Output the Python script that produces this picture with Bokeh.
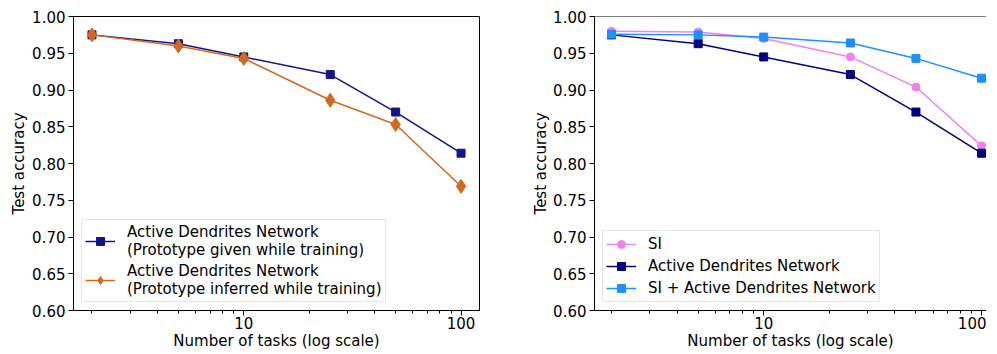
from bokeh.plotting import figure
from bokeh.layouts import row
from bokeh.models import (Range1d, FixedTicker, NumeralTickFormatter, PrintfTickFormatter,
                          Legend, LegendItem, Span)
from bokeh.embed import file_html
from bokeh.resources import INLINE

tasks = [2, 5, 10, 25, 50, 100]
adn_given = [0.975, 0.963, 0.945, 0.921, 0.870, 0.814]
adn_inferred = [0.975, 0.960, 0.943, 0.886, 0.853, 0.769]
si = [0.980, 0.979, 0.970, 0.945, 0.904, 0.824]
adn = [0.975, 0.963, 0.945, 0.921, 0.870, 0.814]
si_adn = [0.976, 0.975, 0.972, 0.964, 0.943, 0.916]

y_ticks = [0.60, 0.65, 0.70, 0.75, 0.80, 0.85, 0.90, 0.95, 1.00]
x_major = [10, 100]
x_minor = [2, 3, 4, 5, 6, 7, 8, 9, 20, 30, 40, 50, 60, 70, 80, 90]

FONT = "DejaVu Sans"
FS = "15px"


def style(p, ylab_standoff):
    p.xgrid.visible = False
    p.ygrid.visible = False
    p.background_fill_color = "white"
    p.border_fill_color = "white"
    for ax in (p.xaxis[0], p.yaxis[0]):
        ax.axis_line_color = "black"
        ax.axis_line_width = 1
        ax.major_tick_line_color = "black"
        ax.minor_tick_line_color = "black"
        ax.major_tick_out = 5
        ax.major_tick_in = 0
        ax.minor_tick_out = 3
        ax.minor_tick_in = 0
        ax.major_label_text_font = FONT
        ax.major_label_text_font_size = FS
        ax.major_label_text_color = "black"
        ax.axis_label_text_font = FONT
        ax.axis_label_text_font_size = FS
        ax.axis_label_text_font_style = "normal"
        ax.axis_label_text_color = "black"
        ax.major_label_standoff = 3
    p.xaxis[0].ticker = FixedTicker(ticks=x_major, minor_ticks=x_minor)
    p.xaxis[0].formatter = PrintfTickFormatter(format="%d")
    p.xaxis[0].axis_label = "Number of tasks (log scale)"
    p.xaxis[0].axis_label_standoff = 0
    p.xaxis[0].major_label_standoff = 1
    p.yaxis[0].ticker = FixedTicker(ticks=y_ticks, minor_ticks=[])
    p.yaxis[0].formatter = NumeralTickFormatter(format="0.00")
    p.yaxis[0].axis_label = "Test accuracy"
    p.yaxis[0].axis_label_standoff = ylab_standoff


def legend(p, items, spacing, line_height):
    lg = Legend(items=items, location="bottom_left")
    lg.label_text_font = FONT
    lg.label_text_font_size = FS
    lg.label_text_color = "black"
    lg.glyph_width = 30
    lg.label_standoff = 12
    lg.border_line_color = "#d0d0d0"
    lg.border_line_width = 1
    lg.background_fill_alpha = 0.85
    lg.padding = 3
    lg.margin = 8
    lg.spacing = spacing
    lg.label_text_line_height = line_height
    p.add_layout(lg, "center")


# Left plot
p1 = figure(width=522, height=352, x_axis_type="log",
            x_range=Range1d(10 ** 0.216, 10 ** 2.085), y_range=Range1d(0.6, 1.0),
            output_backend="svg", toolbar_location=None,
            min_border_left=73, min_border_right=43, min_border_top=16, min_border_bottom=38)
style(p1, 1)
p1.outline_line_color = "black"
p1.outline_line_width = 1
c1 = "#14148a"
c2 = "#d2691e"
l1 = p1.line(tasks, adn_given, line_color=c1, line_width=1.5)
m1 = p1.scatter(tasks, adn_given, marker="square", size=8, fill_color=c1, line_color=c1)
l2 = p1.line(tasks, adn_inferred, line_color=c2, line_width=1.5)
m2 = p1.scatter(tasks, adn_inferred, marker="diamond", size=14, fill_color=c2, line_color=c2)
legend(p1, [
    LegendItem(label="Active Dendrites Network\n(Prototype given while training)", renderers=[l1, m1]),
    LegendItem(label="Active Dendrites Network\n(Prototype inferred while training)", renderers=[l2, m2]),
], spacing=3, line_height=1.05)

# Right plot
p2 = figure(width=464, height=352, x_axis_type="log",
            x_range=Range1d(10 ** 0.223, 10 ** 2.023), y_range=Range1d(0.6, 1.0),
            output_backend="svg", toolbar_location=None,
            min_border_left=72, min_border_right=0, min_border_top=16, min_border_bottom=38)
style(p2, 0)
p2.outline_line_color = None
p2.add_layout(Span(location=1.0, dimension="width", line_color="black", line_width=1))
cs = "#ee82ee"
cn = "#000080"
cd = "#1e90ff"
a1 = p2.line(tasks, si, line_color=cs, line_width=1.5)
b1 = p2.scatter(tasks, si, marker="circle", size=8, fill_color=cs, line_color=cs)
a2 = p2.line(tasks, adn, line_color=cn, line_width=1.5)
b2 = p2.scatter(tasks, adn, marker="square", size=8, fill_color=cn, line_color=cn)
a3 = p2.line(tasks, si_adn, line_color=cd, line_width=1.5)
b3 = p2.scatter(tasks, si_adn, marker="square", size=8, fill_color=cd, line_color=cd)
legend(p2, [
    LegendItem(label="SI", renderers=[a1, b1]),
    LegendItem(label="Active Dendrites Network", renderers=[a2, b2]),
    LegendItem(label="SI + Active Dendrites Network", renderers=[a3, b3]),
], spacing=2, line_height=1.1)

layout = row(p1, p2)
open("out.html", "w").write(file_html(layout, INLINE))
